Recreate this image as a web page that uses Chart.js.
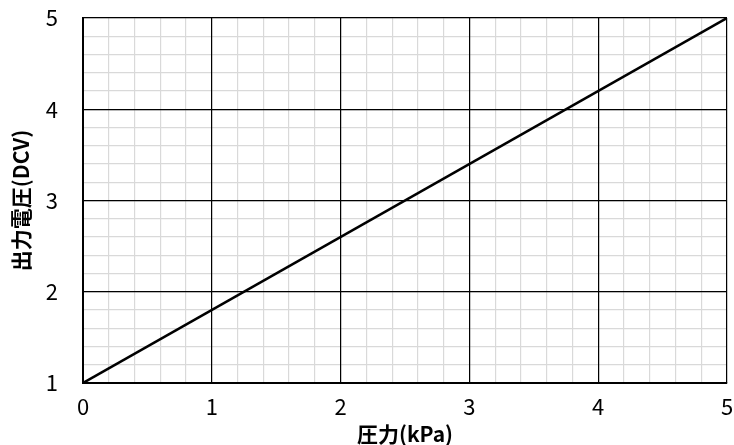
<!DOCTYPE html>
<html>
<head>
<meta charset="utf-8">
<script src="https://cdn.jsdelivr.net/npm/chart.js@4/dist/chart.umd.min.js"></script>
<style>
  html, body { margin: 0; padding: 0; background: #fff; }
  #wrap { width: 734px; height: 445px; }
</style>
</head>
<body>
<div id="wrap"><canvas id="chart" width="734" height="445"></canvas></div>
<script>
'use strict';

// pressure (kPa) vs output voltage (DCV)
var pressure = [0, 5];
var voltage = [1, 5];
var xTitle = '圧力(kPa)';
var yTitle = '出力電圧(DCV)';

var points = [];
for (var i = 0; i < pressure.length; i++) {
  points.push({x: pressure[i], y: voltage[i]});
}

function isMajor(v) {
  return Math.abs(v - Math.round(v)) < 1e-6;
}

function tickLabel(v) {
  return isMajor(v) ? Math.round(v) : '';
}

var font = 'Noto Sans CJK JP';

// hidden scale that only draws the black 1-unit grid on top of the minor one
function majorScale(axis, pos, min, max) {
  return {
    type: 'linear',
    axis: axis,
    position: pos,
    min: min,
    max: max,
    z: 0,
    border: { display: false },
    grid: { color: '#000000', lineWidth: 1.2, drawTicks: false },
    ticks: { stepSize: 1, display: false },
    afterFit: function(scale) {
      if (axis === 'x') { scale.height = 0; } else { scale.width = 0; }
      scale.paddingTop = 0; scale.paddingBottom = 0;
      scale.paddingLeft = 0; scale.paddingRight = 0;
    }
  };
}

var ctx = document.getElementById('chart').getContext('2d');
var chart = new Chart(ctx, {
  type: 'scatter',
  data: {
    datasets: [{
      data: points,
      showLine: true,
      borderColor: '#000000',
      borderWidth: 2.5,
      pointRadius: 0,
      fill: false
    }]
  },
  options: {
    responsive: false,
    animation: false,
    layout: { padding: 0 },
    plugins: { legend: { display: false }, tooltip: { enabled: false } },
    scales: {
      x: {
        type: 'linear',
        min: 0,
        max: 5,
        z: -1,
        border: { color: '#000000', width: 2 },
        grid: { color: '#d9d9d9', lineWidth: 1.2, drawTicks: false },
        ticks: {
          stepSize: 0.2,
          autoSkip: false,
          maxRotation: 0,
          padding: 10,
          color: '#000000',
          font: { family: font, size: 22 },
          callback: tickLabel
        },
        title: {
          display: true,
          text: xTitle,
          color: '#000000',
          padding: { top: 0, bottom: 0 },
          font: { family: font, size: 21, weight: 'bold', lineHeight: 1 }
        },
        afterFit: function(scale) {
          scale.height = 62;
          scale.paddingLeft = 0;
          scale.paddingRight = 7;
        }
      },
      y: {
        type: 'linear',
        min: 1,
        max: 5,
        z: -1,
        border: { color: '#000000', width: 2 },
        grid: { color: '#d9d9d9', lineWidth: 1.2, drawTicks: false },
        ticks: {
          stepSize: 0.2,
          autoSkip: false,
          padding: 25,
          color: '#000000',
          font: { family: font, size: 22 },
          callback: tickLabel
        },
        title: {
          display: true,
          text: yTitle,
          color: '#000000',
          padding: { top: 11, bottom: 0 },
          font: { family: font, size: 21, weight: 'bold', lineHeight: 1 }
        },
        afterFit: function(scale) {
          scale.width = 83;
          scale.paddingTop = 18;
          scale.paddingBottom = 0;
        }
      },
      xMajor: majorScale('x', 'top', 0, 5),
      yMajor: majorScale('y', 'right', 1, 5)
    }
  }
});
</script>
</body>
</html>
